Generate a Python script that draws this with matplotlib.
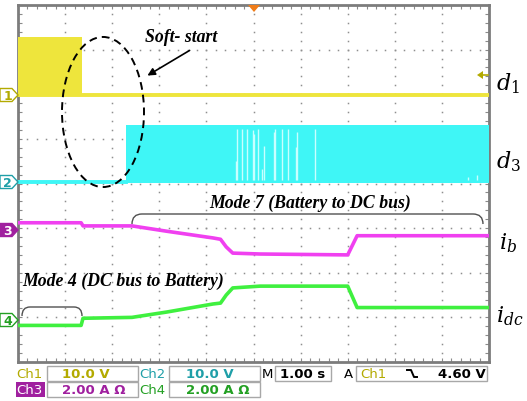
import numpy as np
import matplotlib
matplotlib.use("Agg")
import matplotlib.pyplot as plt
from matplotlib.patches import Ellipse, Polygon, Rectangle, PathPatch
from matplotlib.path import Path

plt.rcParams['mathtext.fontset'] = 'dejavuserif'

# ---------------- data (time in s, level in screen divisions) ----------------
ch1_burst_t = [0.0, 1.36]          # PWM burst of d1 (soft start)
ch1_high = 3.28
ch1_t = [0.0, 10.0]
ch1_v = [1.98, 1.98]

ch2_off_t = [0.0, 2.30]
ch2_off_v = [0.03, 0.03]
ch2_on_t = [2.30, 10.0]            # PWM of d3
ch2_low = 0.02
ch2_high = 1.31
gap_t = [4.63, 4.66, 4.76, 4.86, 4.98, 5.00, 5.10, 5.19, 5.22, 5.44, 5.46,
         5.60, 5.74, 5.90, 5.92, 6.31, 9.55, 9.75]
gap_top = [0.50, 1.22, 1.22, 1.22, 1.20, 1.10, 1.22, 0.33, 0.84, 1.15, 1.22,
           1.22, 1.22, 0.82, 1.15, 1.22, 0.15, 0.18]

ch3_t = [0.0, 1.34, 1.38, 2.42, 3.16, 4.14, 4.30, 4.42, 4.56, 5.14, 7.00, 7.20, 10.0]
ch3_v = [-0.88, -0.88, -0.95, -0.95, -1.07, -1.22, -1.25, -1.42, -1.56, -1.58,
         -1.60, -1.17, -1.17]
ch4_t = [0.0, 1.34, 1.38, 2.42, 3.16, 4.14, 4.30, 4.42, 4.56, 5.14, 7.00, 7.20, 10.0]
ch4_v = [-3.18, -3.18, -3.02, -3.00, -2.88, -2.70, -2.68, -2.50, -2.34, -2.30,
         -2.30, -2.78, -2.78]

info_row1 = [("Ch1", "10.0 V"), ("Ch2", "10.0 V")]
info_row2 = [("Ch3", "2.00 A \u03a9"), ("Ch4", "2.00 A \u03a9")]
timebase = "1.00 s"
trig_src = "Ch1"
trig_level = "4.60 V"

c_yel = '#eee53c'
c_cyan = '#3ff6f6'
c_pink = '#f040f0'
c_green = '#3ff03f'
c_yel_dark = '#b3aa00'
c_teal = '#1f9fa8'
c_purple = '#a0209f'
c_green_dark = '#23a023'

W, H = 527, 402
fig = plt.figure(figsize=(W / 100, H / 100), dpi=100)
fig.patch.set_facecolor('white')

L, R, T, B = 18, 489, 6, 363
ax = fig.add_axes([L / W, (H - B) / H, (R - L) / W, (B - T) / H])
ax.set_xlim(0, 10)
ax.set_ylim(-4, 4)
ax.set_facecolor('white')
for s in ax.spines.values():
    s.set_color('#7c7c7c')
    s.set_linewidth(2)
ax.set_xticks(np.arange(0, 11, 1))
ax.set_yticks(np.arange(-4, 5, 1))
ax.set_xticks(np.arange(0, 10.01, 0.2), minor=True)
ax.set_yticks(np.arange(-4, 4.01, 0.2), minor=True)
ax.tick_params(which='both', direction='in', length=3, width=0.8, color='#8a8a8a',
               top=True, right=True, labelbottom=False, labelleft=False)

# dotted graticule
gy = np.arange(-4, 4.01, 0.2)
gx = np.arange(0, 10.01, 0.2)
for xi in range(1, 10):
    ax.plot(np.full_like(gy, xi), gy, ls='none', marker='s', ms=1.1,
            mec='none', mfc='#8f8f8f', zorder=1)
for yi in range(-3, 4):
    ax.plot(gx, np.full_like(gx, yi), ls='none', marker='s', ms=1.1,
            mec='none', mfc='#8f8f8f', zorder=1)

# Ch1
ax.fill_between(ch1_burst_t, ch1_v[0], ch1_high, color=c_yel, lw=0, zorder=3)
ax.plot(ch1_t, ch1_v, color=c_yel, lw=2.8, zorder=3)
# Ch2
ax.plot(ch2_off_t, ch2_off_v, color=c_cyan, lw=2.8, zorder=3)
ax.fill_between(ch2_on_t, ch2_low, ch2_high, color=c_cyan, lw=0, zorder=3)
ax.vlines(gap_t, ch2_low + 0.06, gap_top, color='#c8ffff', lw=1.0, zorder=4)
# Ch3, Ch4
ax.plot(ch3_t, ch3_v, color=c_pink, lw=2.6, zorder=3, solid_joinstyle='round')
ax.plot(ch4_t, ch4_v, color=c_green, lw=2.6, zorder=3, solid_joinstyle='round')

# overlay in pixel coordinates
ov = fig.add_axes([0, 0, 1, 1])
ov.set_xlim(0, W)
ov.set_ylim(H, 0)
ov.axis('off')


def to_data(x, y):
    return (x - L) / ((R - L) / 10), ((T + B) / 2 - y) / ((B - T) / 8)


# soft start ellipse
cx, cy = to_data(103, 113)
ax.add_patch(Ellipse((cx, cy), width=82 / 47.1, height=150 / 44.6, fill=False,
                     ec='black', lw=1.4, ls=(0, (4, 2.6)), zorder=6))
ov.annotate('', xy=(145, 78), xytext=(192, 50),
            arrowprops=dict(arrowstyle='-|>', lw=1.2, color='black', mutation_scale=11))

tf = dict(family='Liberation Serif', weight='bold', style='italic', fontsize=12.8,
          color='black', ha='center', va='center')
ov.text(181, 38, 'Soft- start', **tf)
ov.text(310, 203, 'Mode 7 (Battery to DC bus)', **tf)
ov.text(123, 281, 'Mode 4 (DC bus to Battery)', **tf)


def bracket(x0, x1, ytop, drop, r):
    verts = [(x0, ytop + drop), (x0, ytop), (x0 + r, ytop), (x1 - r, ytop),
             (x1, ytop), (x1, ytop + drop)]
    codes = [Path.MOVETO, Path.CURVE3, Path.CURVE3, Path.LINETO, Path.CURVE3, Path.CURVE3]
    ov.add_patch(PathPatch(Path(verts, codes), fill=False, ec='#505050', lw=1.0))


bracket(132, 483, 215, 10, 10)
bracket(22, 82, 308, 9, 8)

# trigger markers
ov.add_patch(Polygon([(248, 6), (260, 6), (254, 13)], closed=True, fc='#f07c18', ec='none'))
ov.add_patch(Polygon([(477, 76), (483, 72), (483, 80)], closed=True, fc=c_yel_dark, ec='none'))
ov.plot([482, 488], [76, 76], color=c_yel_dark, lw=1.2)

# channel ground markers
def ch_marker(yc, label, col, filled):
    pts = [(0, yc - 6.5), (12, yc - 6.5), (18, yc), (12, yc + 6.5), (0, yc + 6.5)]
    ov.add_patch(Polygon(pts, closed=True, fc=col if filled else 'white', ec=col, lw=1.0))
    ov.text(7.5, yc + 0.5, label, color='white' if filled else col, fontsize=9,
            weight='bold', ha='center', va='center', family='DejaVu Sans')


ch_marker(96, '1', c_yel_dark, False)
ch_marker(183, '2', c_teal, False)
ch_marker(231, '3', c_purple, True)
ch_marker(321, '4', c_green_dark, False)

# right side labels
rl = dict(fontsize=16, color='black', ha='left', va='center')
ov.text(496, 84, r'$d_1$', **rl)
ov.text(496, 162, r'$d_3$', **rl)
ov.text(499, 243, r'$i_b$', **rl)
ov.text(496, 316, r'$i_{dc}$', **rl)

# info boxes
fs = 9.5
ff = 'DejaVu Sans'


def box(x0, x1, y0, y1):
    ov.add_patch(Rectangle((x0, y0), x1 - x0, y1 - y0, fc='white', ec='#a8a8a8', lw=1.0))


r1 = (367, 382)
r2 = (383, 398)
box(47, 138, *r1)
box(169, 260, *r1)
box(275, 331, *r1)
box(356, 487, *r1)
box(47, 138, *r2)
box(169, 260, *r2)
ym1 = (r1[0] + r1[1]) / 2 + 0.5
ym2 = (r2[0] + r2[1]) / 2 + 0.5

ov.text(16, ym1, info_row1[0][0], color=c_yel_dark, fontsize=fs, family=ff, va='center', ha='left')
ov.text(62, ym1, info_row1[0][1], color=c_yel_dark, fontsize=fs, family=ff, weight='bold', va='center', ha='left')
ov.text(139, ym1, info_row1[1][0], color=c_teal, fontsize=fs, family=ff, va='center', ha='left')
ov.text(186, ym1, info_row1[1][1], color=c_teal, fontsize=fs, family=ff, weight='bold', va='center', ha='left')
ov.text(262, ym1, 'M', color='black', fontsize=fs, family=ff, va='center', ha='left')
ov.text(280, ym1, timebase, color='black', fontsize=fs, family=ff, weight='bold', va='center', ha='left')
ov.text(344, ym1, 'A', color='black', fontsize=fs, family=ff, va='center', ha='left')
ov.text(360, ym1, trig_src, color=c_yel_dark, fontsize=fs, family=ff, va='center', ha='left')
ov.plot([407, 411, 414, 417], [371, 371, 378, 378], color='black', lw=1.4)
ov.text(486, ym1, trig_level, color='black', fontsize=fs, family=ff, weight='bold', va='center', ha='right')

ov.add_patch(Rectangle((16, r2[0]), 29, r2[1] - r2[0], fc=c_purple, ec='none'))
ov.text(16.5, ym2, info_row2[0][0], color='white', fontsize=fs, family=ff, va='center', ha='left')
ov.text(62, ym2, info_row2[0][1], color=c_purple, fontsize=fs, family=ff, weight='bold', va='center', ha='left')
ov.text(139, ym2, info_row2[1][0], color=c_green_dark, fontsize=fs, family=ff, va='center', ha='left')
ov.text(186, ym2, info_row2[1][1], color=c_green_dark, fontsize=fs, family=ff, weight='bold', va='center', ha='left')

fig.savefig('out.png', dpi=100, facecolor='white')
